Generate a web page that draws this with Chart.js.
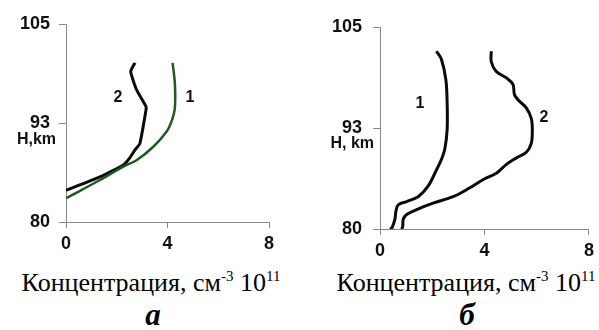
<!DOCTYPE html>
<html>
<head>
<meta charset="utf-8">
<script src="https://cdn.jsdelivr.net/npm/chart.js@4"></script>
<style>
  body { margin: 0; background: #fff; }
  #wrap { position: relative; width: 599px; height: 330px; overflow: hidden; }
  canvas { position: absolute; top: 0; }
  .cap { position: absolute; width: 300px; text-align: center; font-family: "Liberation Serif", serif;
         color: #000; line-height: 1; white-space: nowrap; font-size: 26px; }
  .cap .s { position: relative; top: -10px; font-size: 15px; }
  .panel { font-size: 31px; font-weight: bold; font-style: italic; }
</style>
</head>
<body>
<div id="wrap">
  <canvas id="chartA" width="300" height="260" style="left:0"></canvas>
  <canvas id="chartB" width="299" height="260" style="left:300px"></canvas>
  <div class="cap" style="left:1px; top:270px">Концентрация, см<span class="s">-3</span> 10<span class="s">11</span></div>
  <div class="cap" style="left:316px; top:270px">Концентрация, см<span class="s">-3</span> 10<span class="s">11</span></div>
  <div class="cap panel" style="left:3px; top:299px">а</div>
  <div class="cap panel" style="left:317px; top:299px">б</div>
</div>
<script>
// panel a: concentration (10^11 cm^-3) vs height (km)
const aCurve1Conc = [4.20, 4.29, 4.29, 4.16, 3.96, 3.44, 2.78, 2.26, 1.34, 0.0]
const aCurve1Height = [100.1, 97.5, 94.4, 92.7, 91.4, 89.5, 87.8, 87.0, 85.3, 83.0]
const aCurve2Conc = [2.72, 2.55, 2.78, 3.15, 3.15, 2.91, 2.72, 2.49, 2.26, 1.34, 0.0]
const aCurve2Height = [100.1, 99.0, 96.7, 94.6, 94.1, 89.9, 89.1, 88.0, 87.2, 85.7, 84.0]

// panel б
const bCurve1Conc = [2.16, 2.35, 2.52, 2.57, 2.57, 2.48, 2.35, 2.16, 1.84, 1.46, 1.02, 0.70, 0.61, 0.57, 0.45, 0.38]
const bCurve1Height = [102.0, 101.0, 98.5, 95.6, 92.3, 89.9, 88.6, 87.3, 85.3, 84.0, 83.4, 83.0, 82.2, 81.2, 80.1, 80.0]
const bCurve2Conc = [4.26, 4.26, 4.45, 4.84, 5.09, 5.15, 5.34, 5.60, 5.79, 5.83, 5.79, 5.60, 5.22, 4.84, 4.45, 3.94, 3.44, 2.80, 2.03, 1.40, 1.02, 0.89, 0.87, 0.83]
const bCurve2Height = [102.0, 100.7, 99.5, 98.7, 97.9, 96.6, 95.8, 95.0, 93.7, 92.3, 90.6, 89.5, 88.8, 88.0, 86.9, 86.1, 85.1, 84.0, 83.2, 82.4, 81.8, 81.2, 80.3, 80.0]

const xTicks = [0, 4, 8]
const yTicks = [80, 92.5, 105]   // 92.5 shows as "93"

const toPoints = (xs, ys) => xs.map((v, i) => ({ x: v, y: ys[i] }))

const tickFont = { family: 'Liberation Sans', size: 18, weight: 'bold' }

// curve numbers and the unit under the middle tick
const notesPlugin = {
    id: 'notes',
    afterDraw(chart, args, opts) {
        const { ctx, scales: { x, y } } = chart
        ctx.save()
        ctx.fillStyle = '#111'
        ctx.font = 'bold 16px "Liberation Sans"'
        ctx.textAlign = 'center'
        ctx.textBaseline = 'middle'
        opts.notes.forEach(n => ctx.fillText(n.text, x.getPixelForValue(n.x), y.getPixelForValue(n.y)))
        ctx.textAlign = 'right'
        ctx.fillText(opts.unit, opts.unitRight, y.getPixelForValue(yTicks[1]) + opts.unitDy)
        ctx.restore()
    }
}

function makeChart(id, datasets, o) {
    return new Chart(document.getElementById(id), {
        type: 'scatter',
        data: { datasets: datasets },
        plugins: [notesPlugin],
        options: {
            responsive: false,
            animation: false,
            layout: { padding: o.padding },
            plugins: {
                legend: { display: false },
                tooltip: { enabled: false },
                notes: o.notes
            },
            scales: {
                x: {
                    type: 'linear', min: 0, max: 8,
                    afterBuildTicks: s => { s.ticks = xTicks.map(v => ({ value: v })) },
                    ticks: { font: tickFont, color: '#111', padding: 5, maxRotation: 0 },
                    grid: { drawOnChartArea: false, drawTicks: true, tickLength: 6, color: '#888' },
                    border: { color: '#888' },
                    afterFit: s => { s.height = 30 }
                },
                y: {
                    type: 'linear', min: 80, max: 105,
                    afterBuildTicks: s => { s.ticks = yTicks.map(v => ({ value: v })) },
                    ticks: { font: tickFont, color: '#111', padding: o.yPad, callback: v => Math.round(v) },
                    grid: { drawOnChartArea: false, drawTicks: true, tickLength: 7, color: '#888' },
                    border: { color: '#888' },
                    afterFit: s => { s.width = o.yWidth }
                }
            }
        }
    })
}

const line = (data, color, width, tension) => ({
    data: data, showLine: true, borderColor: color, borderWidth: width,
    pointRadius: 0, tension: tension, fill: false
})

makeChart('chartA', [
    line(toPoints(aCurve1Conc, aCurve1Height), '#1f5a1f', 2.5, 0.35),
    line(toPoints(aCurve2Conc, aCurve2Height), '#0a0a0a', 3, 0.15)
], {
    padding: { left: 0, right: 31, top: 24, bottom: 8 },
    yWidth: 66, yPad: 9,
    notes: {
        notes: [{ text: '1', x: 4.88, y: 95.7 }, { text: '2', x: 2.05, y: 95.7 }],
        unit: 'H,km', unitRight: 56, unitDy: 17
    }
})

makeChart('chartB', [
    line(toPoints(bCurve1Conc, bCurve1Height), '#0a0a0a', 3, 0.35),
    line(toPoints(bCurve2Conc, bCurve2Height), '#0a0a0a', 3, 0.35)
], {
    padding: { left: 0, right: 10, top: 27, bottom: 1 },
    yWidth: 80, yPad: 11,
    notes: {
        notes: [{ text: '1', x: 1.53, y: 95.5 }, { text: '2', x: 6.28, y: 93.8 }],
        unit: 'H, km', unitRight: 74, unitDy: 16
    }
})
</script>
</body>
</html>
